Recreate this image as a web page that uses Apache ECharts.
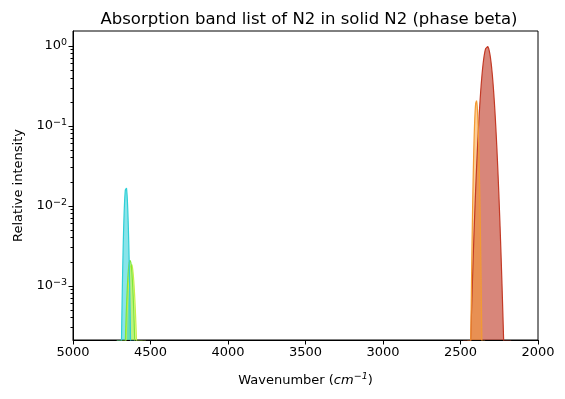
<!DOCTYPE html>
<html><head><meta charset="utf-8">
<script src="https://cdn.jsdelivr.net/npm/echarts@6/dist/echarts.min.js"></script>
<style>html,body{margin:0;padding:0;background:#fff}#c{width:565px;height:399px}</style>
</head><body><div id="c"></div>
<script>
// Band list: centre (cm^-1), peak relative intensity, gaussian sigma (cm^-1)
const bandCenters = [2328, 2398, 4658, 4632, 4624];
const bandIntensities = [1.0, 0.21, 0.0175, 0.0021, 0.0019];
const bandSigmas = [25.8, 9.6, 9.8, 14, 16];
const bandLineColors = ['#c33a26', '#f39a32', '#2fcfd6', '#7de83a', '#c8ee4a'];
const bandFillColors = ['rgba(192,60,40,0.62)', 'rgba(250,155,45,0.5)', 'rgba(40,205,215,0.55)', 'rgba(125,232,58,0.4)', 'rgba(200,238,74,0.45)'];
const drawOrder = [0, 1, 4, 3, 2];
const xTicks = [5000, 4500, 4000, 3500, 3000, 2500, 2000];
const yMajorTicks = [0.001, 0.01, 0.1, 1];
const yMinorTicks = [];
[1e-4, 1e-3, 1e-2, 1e-1].forEach(d => { for (let k = 2; k <= 9; k++) yMinorTicks.push(+(d * k).toPrecision(3)); });
const yMin = 2.1e-4, yMax = 1.54;

function profile(i) {
  const c = bandCenters[i], s = bandSigmas[i], a = bandIntensities[i];
  const pts = [];
  for (let x = Math.floor(c - 6 * s); x <= Math.ceil(c + 6 * s); x += 0.5) {
    pts.push([x, a * Math.exp(-((x - c) * (x - c)) / (2 * s * s))]);
  }
  return pts;
}

const series = drawOrder.map(i => ({
  type: 'line', data: profile(i), showSymbol: false, clip: true,
  lineStyle: { color: bandLineColors[i], width: 1.2 },
  areaStyle: { color: bandFillColors[i], origin: 'start', opacity: 1 },
  silent: true, animation: false
}));

function sup(v) {
  const e = Math.round(Math.log10(v));
  return '{b|10}{s|' + (e < 0 ? '\u2212' + (-e) : e) + '}';
}

const F = 'DejaVu Sans';
const chart = echarts.init(document.getElementById('c'), null, { renderer: 'canvas' });
chart.setOption({
  animation: false,
  title: { text: 'Absorption band list of N2 in solid N2 (phase beta)', left: 304, textAlign: 'center', top: 6,
    textStyle: { fontFamily: F, fontSize: 16.5, fontWeight: 'normal', color: '#000' } },
  grid: { left: 73, right: 27, top: 31, bottom: 59, show: true, borderColor: '#000', borderWidth: 1, backgroundColor: 'transparent' },
  xAxis: {
    type: 'value', min: 2000, max: 5000, interval: 500, inverse: true,
    name: '{n|Wavenumber (}{i|cm}{sp|\u22121}{n|)}', nameLocation: 'middle', nameGap: 32,
    nameTextStyle: { rich: {
      n: { fontFamily: F, fontSize: 13, color: '#000' },
      i: { fontFamily: F, fontStyle: 'italic', fontSize: 13, color: '#000' },
      sp: { fontFamily: F, fontStyle: 'italic', fontSize: 9.5, color: '#000', padding: [0, 0, 7, 0] } } },
    axisLine: { lineStyle: { color: '#000', width: 1 } },
    axisTick: { show: true, length: 4.5, lineStyle: { color: '#000' } },
    axisLabel: { color: '#000', fontFamily: F, fontSize: 13, margin: 6,
      customValues: xTicks, formatter: v => String(v) },
    splitLine: { show: false }
  },
  yAxis: [{
    type: 'log', logBase: 10, min: yMin, max: yMax,
    name: 'Relative intensity', nameLocation: 'middle', nameGap: 48,
    nameTextStyle: { fontFamily: F, fontSize: 13, color: '#000' },
    axisLine: { show: true, lineStyle: { color: '#000', width: 1 } },
    axisTick: { show: true, length: 4.5, lineStyle: { color: '#000' }, customValues: yMajorTicks },
    axisLabel: { color: '#000', margin: 6, customValues: yMajorTicks, formatter: sup,
      rich: { b: { fontFamily: F, fontSize: 13, color: '#000' },
              s: { fontFamily: F, fontSize: 9.5, color: '#000', padding: [0, 0, 7, 0] } } },
    splitLine: { show: false }
  }, {
    type: 'log', logBase: 10, min: yMin, max: yMax, position: 'left',
    axisLine: { show: false },
    axisTick: { show: true, length: 2.5, lineStyle: { color: '#000' }, customValues: yMinorTicks },
    axisLabel: { show: false },
    splitLine: { show: false }
  }],
  series: series
});
</script></body></html>
